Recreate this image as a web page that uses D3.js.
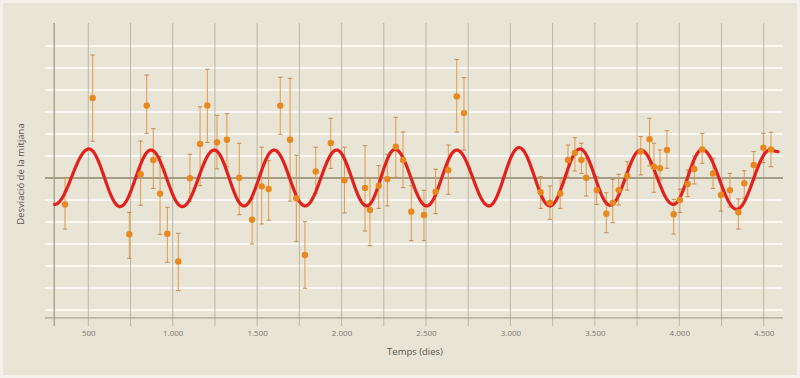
<!DOCTYPE html>
<html>
<head>
<meta charset="utf-8">
<script src="https://cdn.jsdelivr.net/npm/d3@7"></script>
<style>
  html, body { margin: 0; padding: 0; background: #f1efe6; }
  svg { display: block; font-family: "Open Sans", "Noto Sans", sans-serif; }
</style>
</head>
<body>
<svg id="chart" width="800" height="378"></svg>
<script>
"use strict";

// observation days, deviation values and error bar ends (upper / lower)
const days = [362, 526, 743, 810, 846, 885, 925, 968, 1033, 1102, 1162, 1205, 1262, 1321, 1394, 1470, 1527, 1568,
  1637, 1695, 1732, 1783, 1847, 1936, 2017, 2139, 2168, 2220, 2271, 2321, 2364, 2413, 2488, 2557, 2632, 2682, 2725,
  3179, 3234, 3295, 3341, 3382, 3420, 3449, 3511, 3568, 3606, 3641, 3692, 3772, 3824, 3850, 3886, 3927, 3967, 4004,
  4050, 4089, 4136, 4200, 4247, 4300, 4350, 4385, 4441, 4498, 4543];
const vals = [-1.20, 3.64, -2.56, 0.17, 3.29, 0.82, -0.71, -2.53, -3.79, -0.01, 1.55, 3.30, 1.62, 1.74, 0.01, -1.90, -0.38, -0.50,
  3.29, 1.74, -0.92, -3.50, 0.30, 1.59, -0.10, -0.45, -1.45, -0.35, -0.05, 1.42, 0.82, -1.53, -1.68, -0.62, 0.36, 3.71, 2.95,
  -0.65, -1.12, -0.70, 0.82, 1.14, 0.82, 0.01, -0.55, -1.62, -1.12, -0.55, 0.09, 1.20, 1.76, 0.51, 0.44, 1.27, -1.65, -1.00,
  -0.27, 0.41, 1.30, 0.21, -0.77, -0.55, -1.56, -0.24, 0.59, 1.38, 1.30];
const hi = [0.01, 5.59, -1.56, 1.68, 4.68, 2.24, 0.97, -1.33, -2.51, 1.08, 3.24, 4.94, 2.85, 2.92, 1.58, -0.95, 1.40, 0.79,
  4.58, 4.53, 1.03, -1.99, 1.40, 2.71, 1.40, 1.47, 0.01, 0.56, 1.08, 2.76, 2.09, -0.35, -0.56, 0.40, 1.50, 5.38, 4.56,
  0.06, -0.36, -0.01, 1.50, 1.83, 1.58, 0.90, 0.06, -0.67, -0.06, 0.17, 0.74, 1.88, 2.71, 1.58, 1.27, 2.15, -0.97, -0.51,
  0.36, 1.00, 2.03, 0.90, -0.09, 0.21, -0.95, 0.33, 1.20, 2.03, 2.08];
const lo = [-2.32, 1.67, -3.65, -1.24, 2.03, -0.47, -2.56, -3.83, -5.12, -1.05, -0.35, 1.62, 0.41, 0.51, -1.67, -3.00, -2.09, -1.92,
  1.99, -1.05, -2.88, -5.01, -0.70, 0.44, -1.59, -2.41, -3.08, -1.38, -1.27, 0.03, -0.44, -2.85, -2.85, -1.62, -0.74, 2.09, 1.27,
  -1.38, -1.88, -1.38, 0.03, 0.32, 0.21, -0.82, -1.20, -2.49, -2.03, -1.23, -0.55, 0.14, 0.55, -0.65, -0.09, 0.44, -2.55, -1.56,
  -0.85, -0.27, 0.67, -0.47, -1.50, -1.32, -2.32, -0.92, -0.09, 0.70, 0.51];

// fitted curve: days and values of successive peaks / troughs
const fitDays = [300, 504, 688, 871, 1057, 1246, 1422, 1600, 1784, 1971, 2149, 2317, 2504, 2682, 2873, 3051, 3234, 3412,
  3590, 3772, 3965, 4136, 4340, 4537, 4585];
const fitVals = [-1.20, 1.32, -1.30, 1.27, -1.30, 1.27, -1.27, 1.27, -1.27, 1.27, -1.27, 1.30, -1.27, 1.27, -1.27, 1.38, -1.27, 1.32,
  -1.24, 1.27, -1.20, 1.29, -1.42, 1.27, 1.20];

const xTicks = [500, 1000, 1500, 2000, 2500, 3000, 3500, 4000, 4500];
const xGrid = d3.range(500, 4501, 250);
const yGrid = [-6, -5, -4, -3, -2, -1, 1, 2, 3, 4, 5, 6];

const svg = d3.select("#chart");
const x = d3.scaleLinear().domain([0, 4600]).range([3.87, 780.58]);
const y = d3.scaleLinear().domain([-7, 7]).range([332, 24]);
const catalan = d3.formatLocale({decimal: ",", thousands: ".", grouping: [3], currency: ["", " €"]});

svg.append("rect").attr("x", 1.5).attr("y", 1.5).attr("width", 797).attr("height", 375)
  .attr("fill", "#e8e4d6").attr("stroke", "#f3f1ea").attr("stroke-width", 3);

// horizontal white grid
svg.append("g").selectAll("line").data(yGrid).join("line")
  .attr("x1", 45).attr("x2", 783)
  .attr("y1", d => y(d)).attr("y2", d => y(d))
  .attr("stroke", "#ffffff").attr("stroke-width", 1.4);

// vertical grid
svg.append("g").selectAll("line").data(xGrid).join("line")
  .attr("x1", d => x(d)).attr("x2", d => x(d))
  .attr("y1", 23).attr("y2", 326)
  .attr("stroke", "#bdb7a5").attr("stroke-width", 1);

// left axis, bottom axis, zero line
svg.append("line").attr("x1", x(298)).attr("x2", x(298)).attr("y1", 23).attr("y2", 326)
  .attr("stroke", "#8f8873").attr("stroke-width", 1);
svg.append("line").attr("x1", 45).attr("x2", 783).attr("y1", y(-6.36)).attr("y2", y(-6.36))
  .attr("stroke", "#9e977f").attr("stroke-width", 1);
svg.append("line").attr("x1", 45).attr("x2", 783).attr("y1", y(0)).attr("y2", y(0))
  .attr("stroke", "#a59e84").attr("stroke-width", 2);

// tick labels
const xAxis = svg.append("g").attr("transform", "translate(0,327)")
  .call(d3.axisBottom(x).tickValues(xTicks).tickSize(0).tickPadding(3).tickFormat(catalan.format(",")));
xAxis.select(".domain").remove();
xAxis.selectAll("text").attr("fill", "#7a7870").attr("font-size", 8).attr("font-family", "Open Sans, sans-serif");

svg.append("text").attr("x", 415).attr("y", 355).attr("text-anchor", "middle")
  .attr("font-size", 9.5).attr("fill", "#555550").text("Temps (dies)");
svg.append("text").attr("transform", "translate(24,174) rotate(-90)").attr("text-anchor", "middle")
  .attr("font-size", 9.5).attr("fill", "#555550").text("Desviació de la mitjana");

// fitted curve, half-cosine between each peak and trough
const fit = [];
for (let i = 0; i < fitDays.length - 1; i++) {
  const a = fitDays[i], b = fitDays[i + 1], va = fitVals[i], vb = fitVals[i + 1];
  for (let t = a; t < b; t += 4) {
    fit.push([t, (va + vb) / 2 + (va - vb) / 2 * Math.cos(Math.PI * (t - a) / (b - a))]);
  }
}
fit.push([fitDays[fitDays.length - 1], fitVals[fitVals.length - 1]]);

// error bars
const points = days.map((d, i) => ({d, v: vals[i], hi: hi[i], lo: lo[i]}));
const bars = svg.append("g");
bars.selectAll("line.err").data(points).join("line").attr("class", "err")
  .attr("x1", p => x(p.d)).attr("x2", p => x(p.d))
  .attr("y1", p => y(p.hi)).attr("y2", p => y(p.lo))
  .attr("stroke", "#e59a45").attr("stroke-width", 1);
bars.selectAll("line.capHi").data(points).join("line").attr("class", "capHi")
  .attr("x1", p => x(p.d) - 2.2).attr("x2", p => x(p.d) + 2.2)
  .attr("y1", p => y(p.hi)).attr("y2", p => y(p.hi))
  .attr("stroke", "#c98a4e").attr("stroke-width", 1);
bars.selectAll("line.capLo").data(points).join("line").attr("class", "capLo")
  .attr("x1", p => x(p.d) - 2.2).attr("x2", p => x(p.d) + 2.2)
  .attr("y1", p => y(p.lo)).attr("y2", p => y(p.lo))
  .attr("stroke", "#c98a4e").attr("stroke-width", 1);

svg.append("path").datum(fit)
  .attr("d", d3.line().x(p => x(p[0])).y(p => y(p[1])))
  .attr("fill", "none").attr("stroke", "#e1221c").attr("stroke-width", 3.2)
  .attr("stroke-linejoin", "round").attr("stroke-linecap", "round");

svg.append("g").selectAll("circle").data(points).join("circle")
  .attr("cx", p => x(p.d)).attr("cy", p => y(p.v)).attr("r", 3.2)
  .attr("fill", "#e8881f");
</script>
</body>
</html>
